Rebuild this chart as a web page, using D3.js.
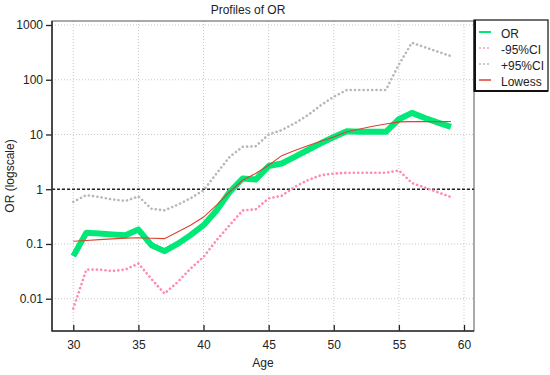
<!DOCTYPE html>
<html><head><meta charset="utf-8">
<script src="https://cdn.jsdelivr.net/npm/d3@7"></script>
<style>
html,body{margin:0;padding:0;background:#fff;}
svg{display:block;font-family:"Liberation Sans",Arial,sans-serif;}
</style></head>
<body>
<svg id="chart" width="550" height="375"></svg>
<script>
const ages = d3.range(30, 60);
const orValues = [0.06,0.16,0.155,0.149,0.144,0.183,0.095,0.074,0.10,0.145,0.22,0.41,0.89,1.57,1.5,2.65,2.95,3.9,5.2,6.9,9.0,11.5,11.2,11.2,11.2,19,24.8,20,16.5,13.8];
const lowerCI = [0.0066,0.034,0.034,0.032,0.034,0.044,0.023,0.0124,0.02,0.0355,0.058,0.117,0.22,0.41,0.43,0.68,0.76,1.1,1.46,1.8,1.93,2.0,2.0,2.0,2.0,2.2,1.3,1.07,0.88,0.72];
const upperCI = [0.585,0.78,0.72,0.65,0.61,0.74,0.44,0.41,0.52,0.68,0.96,1.94,3.9,5.95,6.1,10,12,16,22.5,34,49,65,65,65,65,190,475,392,325,270];
const lowess = [0.112,0.116,0.12,0.124,0.128,0.13,0.127,0.125,0.165,0.22,0.31,0.51,0.89,1.46,1.94,2.75,4.1,5.1,6.2,7.5,9.0,11.2,12.6,14.1,15.5,17,17.2,17.2,17.2,17.3];
const xTicks = [30,35,40,45,50,55,60];
const yTicks = [0.01,0.1,1,10,100,1000];
const yTickLabels = ["0.01","0.1","1","10","100","1000"];
const legendLabels = ["OR","-95%CI","+95%CI","Lowess"];

const svg = d3.select("#chart");
const L = 52, R = 474, T = 21, B = 331;
const x = d3.scaleLinear().domain([30, 60]).range([73.3, 464]);
const y = d3.scaleLog().domain([0.01, 1000]).range([298.7, 25]);

svg.append("defs").append("clipPath").attr("id","clip")
  .append("rect").attr("x",L).attr("y",T).attr("width",R-L).attr("height",B-T);

// grid
const grid = svg.append("g");
grid.selectAll(".gx").data(xTicks).join("line")
  .attr("x1",d=>x(d)).attr("x2",d=>x(d)).attr("y1",T).attr("y2",B)
  .attr("stroke","#c8c8c8").attr("stroke-dasharray","1,2");
grid.selectAll(".gy").data(yTicks).join("line")
  .attr("y1",d=>y(d)).attr("y2",d=>y(d)).attr("x1",L).attr("x2",R)
  .attr("stroke","#c8c8c8").attr("stroke-dasharray","1,2");

// frame
svg.append("rect").attr("x",L).attr("y",T).attr("width",R-L).attr("height",B-T)
  .attr("fill","none").attr("stroke","#555").attr("stroke-width",1);

const plot = svg.append("g").attr("clip-path","url(#clip)");
// reference line at 1
plot.append("line").attr("x1",L).attr("x2",R).attr("y1",y(1)).attr("y2",y(1))
  .attr("stroke","#222").attr("stroke-width",1.5).attr("stroke-dasharray","3,2");

const line = vals => d3.line().x((d,i)=>x(ages[i])).y(d=>y(d))(vals);

plot.append("path").attr("d",line(upperCI)).attr("fill","none")
  .attr("stroke","#b8b8b8").attr("stroke-width",2.6).attr("stroke-linecap","round")
  .attr("stroke-dasharray","0.1,4.2");
plot.append("path").attr("d",line(lowerCI)).attr("fill","none")
  .attr("stroke","#ff8ab8").attr("stroke-width",2.6).attr("stroke-linecap","round")
  .attr("stroke-dasharray","0.1,4.2");
plot.append("path").attr("d",line(orValues)).attr("fill","none")
  .attr("stroke","#00e878").attr("stroke-width",6).attr("stroke-linejoin","round");
plot.append("path").attr("d",line(lowess)).attr("fill","none")
  .attr("stroke","#e0402e").attr("stroke-width",1.1);

// axes
const xAxis = d3.axisBottom(x).tickValues(xTicks).tickSizeInner(-6).tickSizeOuter(0).tickPadding(9);
const gx = svg.append("g").attr("transform",`translate(0,${B})`).call(xAxis);
gx.select(".domain").remove();
gx.selectAll(".tick line").attr("stroke","#222").attr("stroke-width",1.3);
gx.selectAll("text").attr("font-size",12).attr("fill","#222");

const yAxis = d3.axisLeft(y).tickValues(yTicks).tickFormat((d,i)=>yTickLabels[i]).tickSizeInner(6).tickSizeOuter(0).tickPadding(3);
const gy = svg.append("g").attr("transform",`translate(${L},0)`).call(yAxis);
gy.select(".domain").remove();
gy.selectAll(".tick line").attr("stroke","#222").attr("stroke-width",1.3);
gy.selectAll("text").attr("font-size",12).attr("fill","#222");

svg.append("line").attr("x1",L).attr("x2",L).attr("y1",T).attr("y2",B+0.5).attr("stroke","#333").attr("stroke-width",1.6);
svg.append("line").attr("x1",L).attr("x2",R).attr("y1",B).attr("y2",B).attr("stroke","#333").attr("stroke-width",1.6);

// labels
svg.append("text").attr("x",248).attr("y",14).attr("text-anchor","middle")
  .attr("font-size",12).attr("fill","#222").text("Profiles of OR");
svg.append("text").attr("x",263).attr("y",367).attr("text-anchor","middle")
  .attr("font-size",12).attr("fill","#222").text("Age");
svg.append("text").attr("transform","translate(14,176) rotate(-90)").attr("text-anchor","middle")
  .attr("font-size",12).attr("fill","#222").text("OR (logscale)");

// legend
const lg = svg.append("g");
lg.append("rect").attr("x",R).attr("y",20).attr("width",74).attr("height",71)
  .attr("fill","#fff").attr("stroke","#111").attr("stroke-width",1.2);
lg.append("line").attr("x1",R+1).attr("x2",R+1).attr("y1",20).attr("y2",91).attr("stroke","#111").attr("stroke-width",2);
lg.append("line").attr("x1",R).attr("x2",R+74).attr("y1",91).attr("y2",91).attr("stroke","#111").attr("stroke-width",2);
const legStyles = [
  {c:"#00e878", w:2, dash:null},
  {c:"#f4a0bc", w:1.5, dash:"2,2"},
  {c:"#b8b8b8", w:1.5, dash:"2,2"},
  {c:"#e0402e", w:1.5, dash:null}
];
const legY = [32, 48, 64, 80];
legendLabels.forEach((lab,i)=>{
  const s = legStyles[i];
  const ln = lg.append("line").attr("x1",479).attr("x2",491).attr("y1",legY[i]).attr("y2",legY[i])
    .attr("stroke",s.c).attr("stroke-width",s.w);
  if (s.dash) ln.attr("stroke-dasharray",s.dash);
  lg.append("text").attr("x",501).attr("y",legY[i]+5.5).attr("font-size",12).attr("fill","#222").text(lab);
});
</script>
</body></html>
